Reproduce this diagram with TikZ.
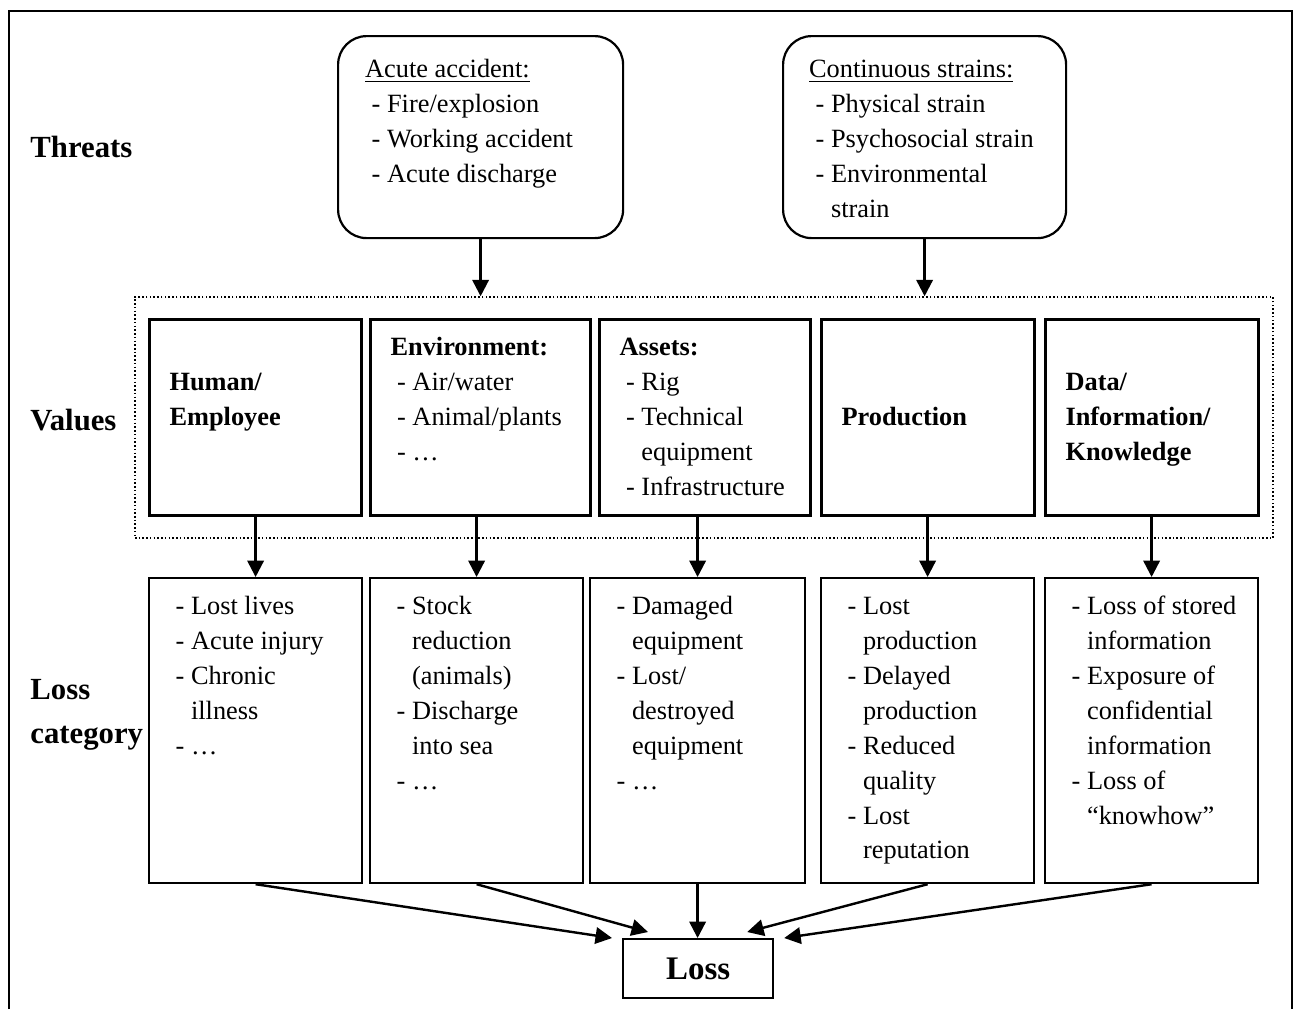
\documentclass[tikz,border=0pt]{standalone}
\usepackage{fontspec}
\setmainfont{Liberation Serif}
\usetikzlibrary{arrows.meta,calc,fit}

\newdimen\pxu \pxu=0.016cm
% text cell: width, height, top pad, left pad, lines
\newcommand{\cell}[5]{\parbox[c][#2\pxu][t]{#1\pxu}{\leftskip=#4\pxu\relax\vspace*{#3\pxu}\strut#5}}
\newcommand{\itm}{\hspace*{.25em}- }
\newcommand{\contd}{\hspace*{.25em}\hphantom{- }}

\tikzset{
  threat/.style={draw, line width=1pt, rounded corners=13pt, anchor=north west, inner sep=0pt},
  value/.style={draw, line width=1.4pt, anchor=north west, inner sep=0pt},
  losscat/.style={draw, line width=1pt, anchor=north west, inner sep=0pt},
  tier/.style={anchor=west, inner sep=0pt, align=left, font=\bfseries\fontsize{14}{20}\selectfont},
  arr/.style={-{Triangle[length=7.5pt,width=7.5pt]}, line width=1.1pt},
}

\begin{document}
\begin{tikzpicture}[x=0.016cm, y=-0.016cm, font=\fontsize{12}{15.9}\selectfont]
\useasboundingbox (0,0) rectangle (1294,1009);

% Frame (open at the bottom)
\draw[line width=1.1pt] (9,1009) -- (9,11) -- (1292,11) -- (1292,1009);

% Row labels
\node[tier] (threats) at (30,147) {Threats};
\node[tier] (values) at (30,420) {Values};
\node[tier] (losslabel) at (30,715) {Loss\\category};

% Threats
\node[threat] (acute) at (337,35) {\cell{285}{202}{17}{27}{\underline{Acute accident:}\\
  \itm Fire/explosion\\ \itm Working accident\\ \itm Acute discharge}};
\node[threat] (strain) at (782,35) {\cell{283}{202}{17}{26}{\underline{Continuous strains:}\\
  \itm Physical strain\\ \itm Psychosocial strain\\ \itm Environmental\\ \contd strain}};

% Values
\node[value] (v1) at (148,318) {\cell{212}{196}{12}{20}{\bfseries\mbox{}\\Human/\\Employee}};
\node[value] (v2) at (369,318) {\cell{220}{196}{12}{20}{\textbf{Environment:}\\
  \itm Air/water\\ \itm Animal/plants\\ \itm …}};
\node[value] (v3) at (598,318) {\cell{211}{196}{12}{20}{\textbf{Assets:}\\
  \itm Rig\\ \itm Technical\\ \contd equipment\\ \itm Infrastructure}};
\node[value] (v4) at (820,318) {\cell{213}{196}{12}{20}{\bfseries\mbox{}\\ \mbox{}\\Production}};
\node[value] (v5) at (1044,318) {\cell{213}{196}{12}{20}{\bfseries\mbox{}\\Data/\\Information/\\Knowledge}};
\node[draw, densely dotted, line width=0.7pt, inner xsep=13\pxu, inner ysep=21\pxu, fit=(v1)(v5)] (vals) {};

% Loss categories
\node[losscat] (l1) at (148,577) {\cell{213}{305}{12}{20}{\itm Lost lives\\ \itm Acute injury\\
  \itm Chronic\\ \contd illness\\ \itm …}};
\node[losscat] (l2) at (369,577) {\cell{213}{305}{12}{20}{\itm Stock\\ \contd reduction\\
  \contd (animals)\\ \itm Discharge\\ \contd into sea\\ \itm …}};
\node[losscat] (l3) at (589,577) {\cell{215}{305}{12}{20}{\itm Damaged\\ \contd equipment\\
  \itm Lost/\\ \contd destroyed\\ \contd equipment\\ \itm …}};
\node[losscat] (l4) at (820,577) {\cell{213}{305}{12}{20}{\itm Lost\\ \contd production\\
  \itm Delayed\\ \contd production\\ \itm Reduced\\ \contd quality\\ \itm Lost\\ \contd reputation}};
\node[losscat] (l5) at (1044,577) {\cell{213}{305}{12}{20}{\itm Loss of stored\\ \contd information\\
  \itm Exposure of\\ \contd confidential\\ \contd information\\ \itm Loss of\\ \contd “knowhow”}};

% Total loss
\node[losscat, minimum width=150\pxu, minimum height=59\pxu,
  font=\bfseries\fontsize{15}{18}\selectfont] (loss) at (622,938) {Loss};

% Arrows
\draw[arr] (acute.south) -- (acute.south |- vals.north);
\draw[arr] (strain.south) -- (strain.south |- vals.north);
\foreach \i in {1,...,5}
  \draw[arr] (v\i.south -| l\i.north) -- (l\i.north);
\draw[arr] (l1.south) -- ($(loss.north west)+(-10,0)$);
\draw[arr] (l2.south) -- ($(loss.north west)+(26,-6)$);
\draw[arr] (l3.south) -- (l3.south |- loss.north);
\draw[arr] (l4.south) -- ($(loss.north east)+(-27,-6)$);
\draw[arr] (l5.south) -- ($(loss.north east)+(10,0)$);
\end{tikzpicture}
\end{document}
